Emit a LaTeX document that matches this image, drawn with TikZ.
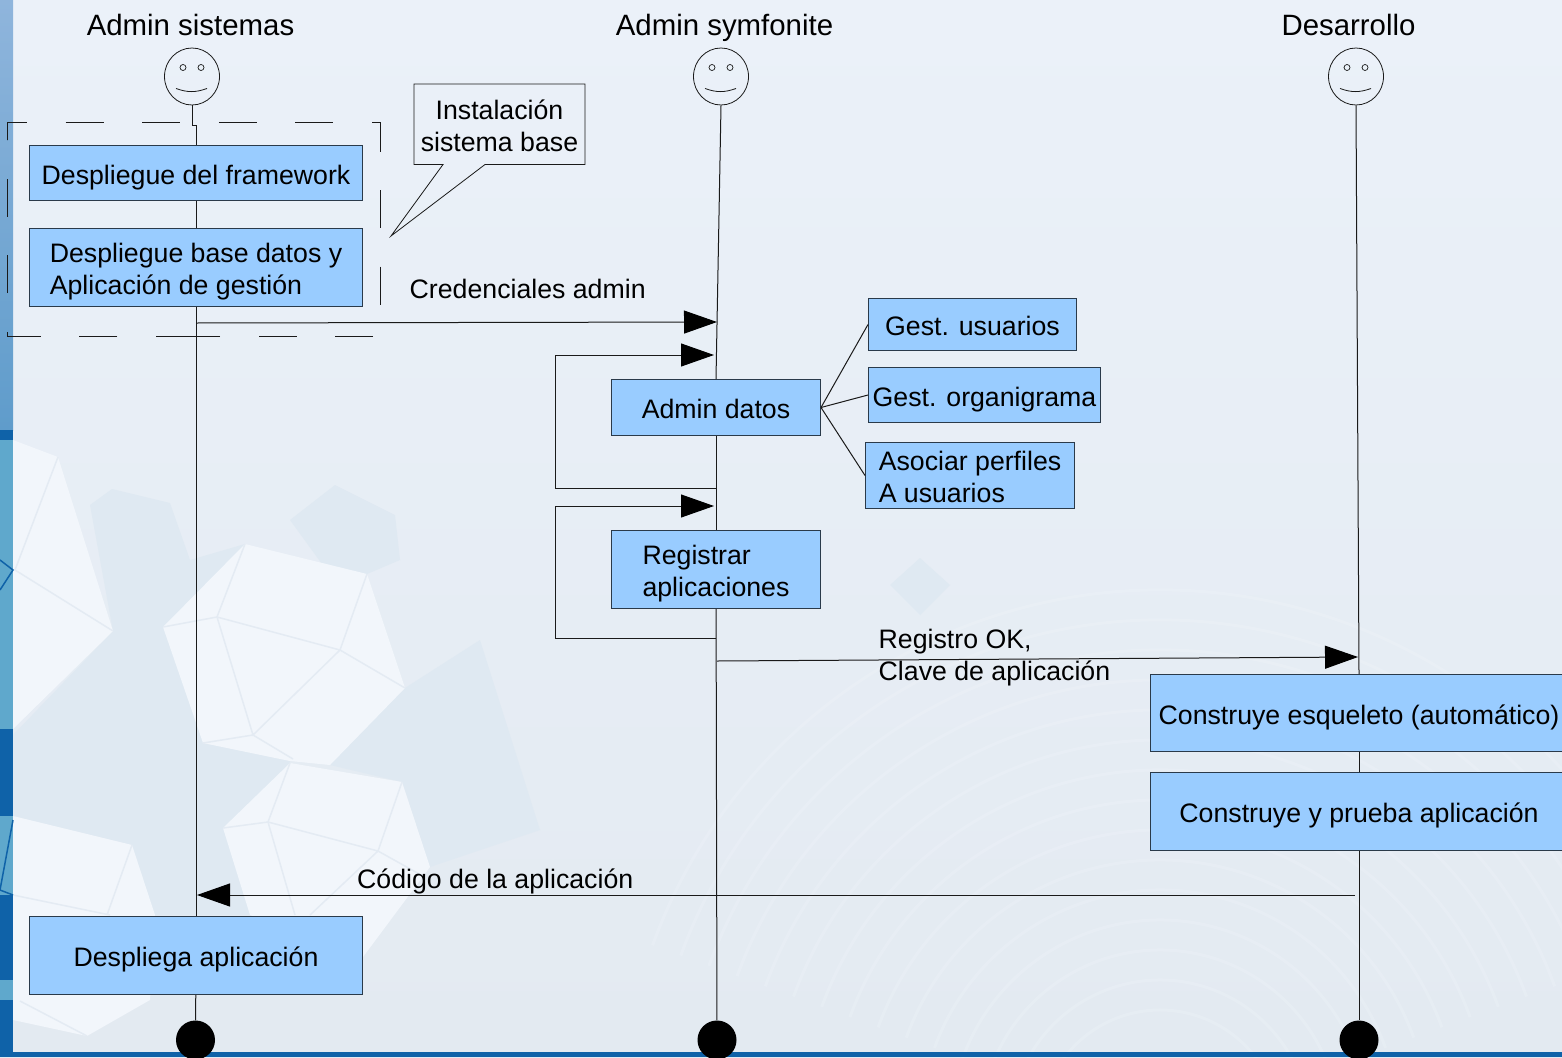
\documentclass[tikz,border=0pt]{standalone}
\usepackage{fontspec}
\setmainfont{Liberation Sans}
\usetikzlibrary{arrows.meta,shapes.geometric}

\definecolor{fondo}{HTML}{EBF1F9}
\definecolor{fondob}{HTML}{E3EAF1}
\definecolor{claro}{HTML}{F2F6FB}
\definecolor{oscuro}{HTML}{DFE9F2}
\definecolor{arista}{HTML}{E4EBF3}
\definecolor{caja}{HTML}{99CCFF}
\definecolor{borde}{HTML}{2A3A4A}
\definecolor{linea}{HTML}{1A1A1A}
\definecolor{franja}{HTML}{0F62A8}
\definecolor{franjaa}{HTML}{8FB5DC}
\definecolor{franjab}{HTML}{5F9CCB}
\definecolor{franjac}{HTML}{5FA8CC}

\tikzset{
    every node/.style={font=\fontsize{26.7}{32}\selectfont, inner sep=0pt},
    actor/.style={font=\fontsize{29.4}{32}\selectfont, anchor=base},
    tarea/.style 2 args={draw=borde, fill=caja, line width=1pt, align=left, minimum width=#1, minimum height=#2, text height=22pt, text depth=0pt},
    doble/.style={text height=54pt},
    cara/.style={draw=linea, ellipse, line width=0.8pt, minimum width=55, minimum height=57},
    fin/.style={circle, fill=black, minimum size=39},
    vida/.style={linea, line width=1pt},
    mensaje/.style={linea, line width=1pt, -{Triangle[length=33pt,width=23pt,color=black]}},
    grupo/.style={linea, line width=0.8pt, dash pattern=on 38pt off 38.6pt},
    cubo/.style={arista, line width=1.5pt}
}

\begin{document}
\begin{tikzpicture}[x=1pt,y=-1pt]
        \useasboundingbox (0,0) rectangle (1562,1057);

        % fondo
        \shade[top color=fondo, bottom color=fondob] (0,0) rectangle (1562,1057);
        \fill[oscuro] (13,735) -- (113,631) -- (90,505) -- (112,489) -- (170,503) -- (190,560) -- (245,544) -- (203,743) -- (290,761) -- (250,915) -- (150,915) -- (132,845) -- (13,816) -- cycle;
        \fill[oscuro] (290,520) -- (335,485) -- (395,515) -- (400,560) -- (367,574) -- (330,575) -- cycle;
        \fill[oscuro] (405,688) -- (330,765) -- (402,782) -- (430,867) -- (540,830) -- (480,640) -- cycle;
        \fill[oscuro] (890,585) -- (920,558) -- (950,585) -- (920,615) -- cycle;
        \foreach \radio in {120,150,...,540} {
            \draw[claro, line width=3pt, opacity=0.25] (1160,1130) ++(200:\radio) arc (200:340:\radio);
        }
        \fill[claro] (13,440) -- (58,457) -- (113,631) -- (13,729) -- cycle;
        \fill[claro] (163,627) -- (245,544) -- (367,574) -- (405,688) -- (330,765) -- (290,761) -- (203,743) -- cycle;
        \fill[claro] (223,828) -- (290,763) -- (402,782) -- (430,867) -- (363,957) -- (250,915) -- cycle;
        \fill[claro] (13,816) -- (132,845) -- (155,915) -- (150,1000) -- (87,1036) -- (13,1020) -- cycle;
        \draw[cubo] (217,617) -- (340,650) -- (253,735) -- (217,617) -- (163,627) (217,617) -- (245,544) (340,650) -- (367,574) (340,650) -- (405,688) (253,735) -- (203,743) (253,735) -- (293,759);
        \draw[cubo] (268,822) -- (378,851) -- (402,782) (268,822) -- (223,828) (268,822) -- (290,763) (378,851) -- (430,880) (268,822) -- (295,915) (378,851) -- (310,915);
        \draw[cubo] (58,457) -- (15,570) -- (113,631);
        \draw[cubo] (13,895) -- (110,915) (132,845) -- (107,915) (20,1001) -- (87,1036);

        \shade[top color=franjaa, bottom color=franjab] (0,0) rectangle (13,430);
        \fill[franja] (0,430) rectangle (13,440);
        \fill[franjac] (0,440) rectangle (13,729);
        \fill[franja] (0,729) rectangle (13,816);
        \fill[franjac] (0,816) rectangle (13,895);
        \fill[franja] (0,895) rectangle (13,1052);
        \fill[franjac] (0,980) rectangle (13,1000);
        \draw[franja, line width=1.5pt] (0,560) -- (13,570) -- (0,590);
        \draw[franja, line width=1.5pt] (13,820) -- (0,890) -- (13,895);
        \fill[franja] (0,1052) rectangle (1562,1057);

        % actores
        \node[actor] (nombre1) at (190.5,35.5) {Admin sistemas};
        \node[actor] (nombre2) at (724.5,35.5) {Admin symfonite};
        \node[actor] (nombre3) at (1348.5,35.5) {Desarrollo};

        \node[cara] (cara1) at (192,76.5) {};
        \node[cara] (cara2) at (721,76.5) {};
        \node[cara] (cara3) at (1356,76.5) {};

        \foreach \actor in {cara1,cara2,cara3} {
            \draw[linea, line width=0.7pt] ([shift={(-9,-9)}]\actor.center) circle (3);
            \draw[linea, line width=0.7pt] ([shift={(9,-9)}]\actor.center) circle (3);
            \draw[linea, line width=0.8pt] ([shift={(-16,12)}]\actor.center) to[bend right=20] ([shift={(15,12)}]\actor.center);
        }

        % tareas
        \node[tarea={333}{55}] (framework) at (196,173) {Despliegue del framework};
        \node[tarea={333}{78},doble] (basedatos) at (196,267.5) {Despliegue base datos y\\Aplicación de gestión};
        \node[tarea={209}{56}] (admindatos) at (716,407.5) {Admin datos};
        \node[tarea={208}{52}] (usuarios) at (972.5,324.5) {Gest. usuarios};
        \node[tarea={232}{55}] (organigrama) at (984.5,395) {Gest. organigrama};
        \node[tarea={209}{66},doble] (perfiles) at (970,475.5) {Asociar perfiles\\A usuarios};
        \node[tarea={209}{78},doble] (registrar) at (716,569.5) {Registrar\\aplicaciones};
        \node[tarea={417}{77}] (esqueleto) at (1359,713) {Construye esqueleto (automático)};
        \node[tarea={417}{78}] (prueba) at (1359,811.5) {Construye y prueba aplicación};
        \node[tarea={333}{78}] (despliega) at (196,955.5) {Despliega aplicación};

        \node[fin] (fin1) at (195.5,1040) {};
        \node[fin] (fin2) at (717,1040) {};
        \node[fin] (fin3) at (1359,1040) {};

        % lineas de vida
        \draw[vida] (cara1.south) -- ++(0,20) -| (framework.north);
        \draw[vida] (framework) -- (basedatos);
        \draw[vida] (basedatos) -- (despliega);
        \draw[vida] (despliega) -- (fin1);

        \draw[vida] (cara2.south) -- (admindatos.north);
        \draw[vida] (admindatos) -- (registrar);
        \draw[vida] (registrar) -- (fin2);

        \draw[vida] (cara3.south) -- (esqueleto.north);
        \draw[vida] (esqueleto) -- (prueba);
        \draw[vida] (prueba) -- (fin3);

        \draw[vida] (admindatos.east) -- (usuarios.west);
        \draw[vida] (admindatos.east) -- (organigrama.west);
        \draw[vida] (admindatos.east) -- (perfiles.west);

        % grupo con la nota
        \draw[grupo] (7,140) -- (7,122) -- (380.5,122) -- (380.5,336) -- (181,336);
        \draw[grupo] (194,336) -- (7,336) -- (7,140);

        \draw[linea, line width=0.8pt] (414,84) -- (585,84) -- (585,164.5) -- (485,164.5) -- (391,236) -- (443,164.5) -- (414,164.5) -- cycle;
        \node[align=center] (nota) at (499.5,126) {Instalación\\sistema base};

        % mensajes
        \coordinate (cred1) at (196,323);
        \coordinate (cred2) at (717,322);
        \coordinate (bucle1a) at (716,488);
        \coordinate (bucle1b) at (714,355);
        \coordinate (bucle2a) at (716,638);
        \coordinate (bucle2b) at (714,506);
        \coordinate (reg1) at (717,661);
        \coordinate (reg2) at (1358,657);
        \coordinate (cod1) at (1355,895);
        \coordinate (cod2) at (197,895);

        \draw[mensaje] (cred1) -- (cred2);
        \draw[mensaje] (bucle1a) -- (555.5,488) -- (555.5,355) -- (bucle1b);
        \draw[mensaje] (bucle2a) -- (555.5,638) -- (555.5,506) -- (bucle2b);
        \draw[mensaje] (reg1) -- (reg2);
        \draw[mensaje] (cod1) -- (cod2);

        \node[anchor=west] (credenciales) at (409.5,289) {Credenciales admin};
        \node[anchor=west, align=left] (registro) at (878.5,658) {Registro OK,\\Clave de aplicación};
        \node[anchor=west] (codigo) at (357,881) {Código de la aplicación};
    \end{tikzpicture}
\end{document}
